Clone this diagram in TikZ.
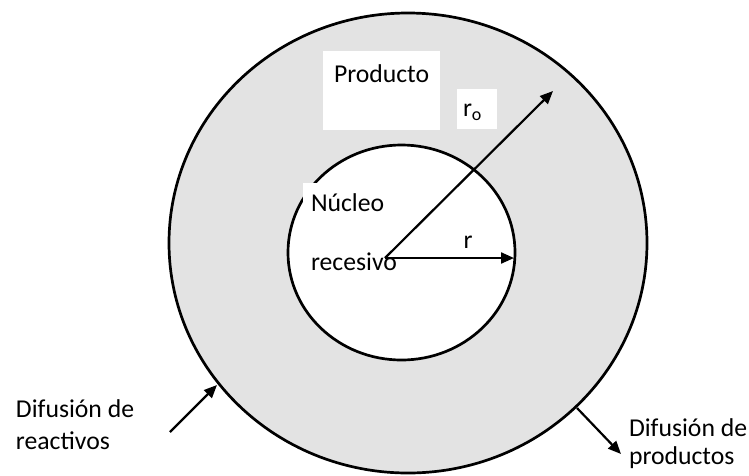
\documentclass[tikz,border=0pt]{standalone}
\usepackage{fontspec}
\setmainfont{Carlito}
\usetikzlibrary{arrows.meta}
\definecolor{shellgray}{RGB}{227,227,227}
\tikzset{every picture/.style={line width=2pt}}

\begin{document}
\begin{tikzpicture}[x=1pt,y=1pt,yscale=-1,xscale=1,
  lbl/.style={font=\fontsize{25.7}{31}\selectfont, inner sep=0pt, anchor=base west},
  whitebox/.style={fill=white, draw=none},
  flow/.style={line width=2.2pt, -{Triangle[length=13pt,width=11pt]}}]
\useasboundingbox (0,0) rectangle (749,475);

%Shape: outer shell
\draw [fill=shellgray, line width=2.7pt] (408,243) ellipse [x radius=239, y radius=230];
%Shape: shrinking core
\draw [fill=white, line width=2.7pt] (401.5,252.5) ellipse [x radius=113.5, y radius=107.5];

%white label boxes
\fill [whitebox] (323,51) rectangle (440,130);
\fill [whitebox] (457,89) rectangle (497,129);
\fill [whitebox] (303,183) rectangle (378,222);

%labels
\node [lbl] (producto) at (333,82.7) {Producto};
\node [lbl] (ro) at (462,116.7) {r\textsubscript{o}};
\node [lbl] (nucleo) at (310,211.7) {Núcleo};
\node [lbl] (recesivo) at (310,270) {recesivo};
\node [lbl] (rlbl) at (462.5,248) {r};
\node [lbl] (reactA) at (15,417) {Difusión de};
\node [lbl] (reactB) at (15,449) {reactivos};
\node [lbl] (prodA) at (628,436) {Difusión de};
\node [lbl] (prodB) at (628,464) {productos};

%radii
\coordinate (o) at (385,258);
\coordinate (rtip) at (514,258);
\coordinate (rotip) at (553,91);
\draw [flow] (o) -- (rtip);
\draw [flow] (o) -- (rotip);

%diffusion arrows
\coordinate (inA) at (170,432);
\coordinate (inB) at (217,385);
\coordinate (outA) at (577,408);
\coordinate (outB) at (621,454);
\draw [flow] (inA) -- (inB);
\draw [flow] (outA) -- (outB);

\end{tikzpicture}
\end{document}
